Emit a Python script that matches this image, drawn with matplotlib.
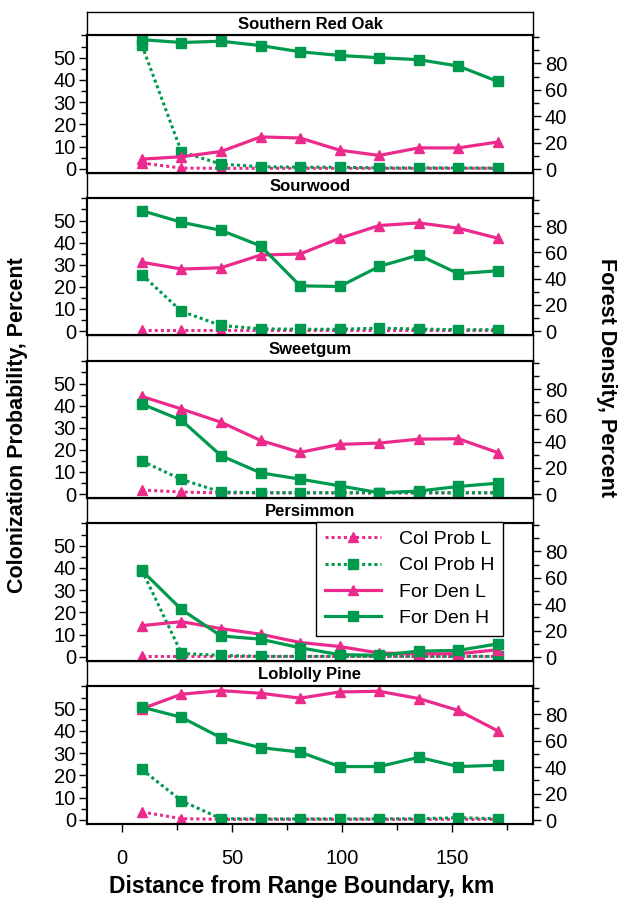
import numpy as np
import matplotlib
matplotlib.use("Agg")
import matplotlib.pyplot as plt
from matplotlib.ticker import MultipleLocator
from matplotlib.lines import Line2D

plt.rcParams['font.family'] = ['Liberation Sans', 'DejaVu Sans']

# distance from range boundary (km), bin centres
dist = [9, 27, 45, 63, 81, 99, 117, 135, 153, 171]

species = ["Southern Red Oak", "Sourwood", "Sweetgum", "Persimmon", "Loblolly Pine"]

# colonization probability (left axis, percent)
col_prob_L = [
    [2.7, 0.4, 0.3, 0.3, 0.3, 0.3, 0.3, 0.3, 0.3, 0.3],
    [0.5, 0.5, 0.5, 0.5, 0.5, 0.5, 0.5, 0.5, 0.5, 0.5],
    [1.8, 0.9, 0.5, 0.5, 0.5, 0.5, 0.5, 0.5, 0.5, 0.5],
    [0.3, 0.3, 0.3, 0.3, 0.3, 0.3, 0.3, 0.3, 0.3, 0.3],
    [3.6, 0.6, 0.3, 0.3, 0.3, 0.3, 0.3, 0.3, 0.3, 0.3],
]
col_prob_H = [
    [55.6, 7.7, 2.2, 1.0, 0.8, 0.8, 0.5, 0.5, 0.5, 0.4],
    [25.5, 8.9, 2.5, 1.0, 0.8, 0.8, 1.3, 0.9, 0.6, 0.6],
    [14.9, 6.6, 0.9, 0.6, 0.6, 0.6, 0.6, 0.6, 0.6, 0.6],
    [39.0, 1.6, 0.7, 0.3, 0.3, 0.3, 0.3, 0.3, 0.3, 0.3],
    [22.7, 8.6, 0.6, 0.5, 0.5, 0.5, 0.5, 0.6, 1.0, 0.6],
]
# forest density (right axis, percent)
for_den_L = [
    [7.5, 9.3, 13.3, 24.3, 23.5, 14.3, 10.3, 16.0, 16.0, 20.5],
    [52.5, 47.3, 48.3, 58.0, 58.8, 70.8, 80.5, 82.5, 78.5, 70.8],
    [74.5, 64.9, 54.8, 40.9, 31.8, 37.9, 38.9, 41.9, 42.2, 31.6],
    [23.8, 26.8, 21.5, 17.3, 11.0, 8.0, 3.0, 2.5, 2.5, 5.5],
    [84.3, 95.3, 98.0, 96.0, 92.3, 97.0, 97.5, 92.0, 83.0, 67.5],
]
for_den_H = [
    [98.0, 95.8, 96.8, 93.5, 88.8, 86.0, 84.3, 82.8, 78.0, 66.3],
    [91.8, 83.0, 76.8, 65.0, 34.5, 34.0, 49.3, 58.0, 43.8, 46.0],
    [68.7, 56.3, 29.3, 16.2, 11.4, 6.3, 1.0, 2.3, 5.8, 8.3],
    [65.5, 36.0, 16.0, 13.5, 7.0, 1.8, 1.3, 4.5, 5.0, 10.0],
    [85.5, 77.8, 62.3, 54.8, 51.5, 40.5, 40.5, 47.5, 40.5, 41.5],
]

PINK = "#EC2A8C"
GREEN = "#009A4E"
W, H = 621, 900

fig = plt.figure(figsize=(W / 100, H / 100), dpi=100)

# panel geometry in pixels (from top): strip top, plot top, plot bottom
rows = [(12, 35, 173), (173, 198, 335), (335, 361, 498), (498, 523, 661), (661, 686, 824)]
left_px, right_px = 87, 533

def frac(x0, y_top, x1, y_bot):
    return [x0 / W, 1 - y_bot / H, (x1 - x0) / W, (y_bot - y_top) / H]

dot_kw = dict(linestyle=(0, (1, 1)), linewidth=2.2, markersize=7)
sol_kw = dict(linestyle='-', linewidth=2.3, markersize=7)

for i, name in enumerate(species):
    s_top, p_top, p_bot = rows[i]
    # strip with species name
    sax = fig.add_axes(frac(left_px, s_top, right_px, p_top))
    sax.set_xticks([])
    sax.set_yticks([])
    for sp in sax.spines.values():
        sp.set_linewidth(1.0)
    sax.text(0.5, 0.45, name, ha='center', va='center', fontsize=12,
             fontweight='bold', transform=sax.transAxes)

    ax = fig.add_axes(frac(left_px, p_top, right_px, p_bot))
    ax2 = ax.twinx()
    ax.plot(dist, col_prob_L[i], color=PINK, marker='^', **dot_kw)
    ax.plot(dist, col_prob_H[i], color=GREEN, marker='s', **dot_kw)
    ax2.plot(dist, for_den_L[i], color=PINK, marker='^', **sol_kw)
    ax2.plot(dist, for_den_H[i], color=GREEN, marker='s', **sol_kw)

    ax.set_xlim(-16, 187)
    ax.set_ylim(-1.8, 60.2)
    ax2.set_ylim(-3, 101.5)
    ax.yaxis.set_minor_locator(MultipleLocator(5))
    ax2.yaxis.set_minor_locator(MultipleLocator(10))
    ax.set_yticks([0, 10, 20, 30, 40, 50])
    ax2.set_yticks([0, 20, 40, 60, 80])
    ax.xaxis.set_minor_locator(MultipleLocator(25))
    ax.tick_params(axis='both', which='major', labelsize=14.5, length=6, width=1.0,
                   direction='out', pad=2)
    ax.tick_params(axis='both', which='minor', length=4, width=1.0, direction='out')
    ax2.tick_params(axis='y', which='major', labelsize=14.5, length=6, width=1.0,
                    direction='out', pad=2.5)
    ax2.tick_params(axis='y', which='minor', length=4, width=1.0, direction='out')
    for a in (ax, ax2):
        for sp in a.spines.values():
            sp.set_linewidth(1.5)
    if i < len(species) - 1:
        ax.tick_params(axis='x', which='both', bottom=False, labelbottom=False)
    else:
        ax.set_xticks([0, 50, 100, 150])
        ax.tick_params(axis='x', pad=12)

    if name == "Persimmon":
        handles = [
            Line2D([], [], color=PINK, marker='^', **dot_kw),
            Line2D([], [], color=GREEN, marker='s', **dot_kw),
            Line2D([], [], color=PINK, marker='^', **sol_kw),
            Line2D([], [], color=GREEN, marker='s', **sol_kw),
        ]
        labels = ["Col Prob L", "Col Prob H", "For Den L", "For Den H"]
        leg = ax2.legend(handles, labels, loc='upper right', bbox_to_anchor=(0.933, 1.01),
                         borderaxespad=0, fontsize=14, frameon=True, fancybox=False,
                         edgecolor='black', framealpha=1, handlelength=2.9,
                         handletextpad=0.9, labelspacing=0.45, borderpad=0.45)
        leg.get_frame().set_linewidth(1.0)

fig.text(302 / W, 1 - 886 / H, "Distance from Range Boundary, km", ha='center', va='center',
         fontsize=16.5, fontweight='bold')
fig.text(18 / W, 1 - 425 / H, "Colonization Probability, Percent", ha='center', va='center',
         rotation=90, fontsize=15.5, fontweight='bold')
fig.text(606 / W, 1 - 378 / H, "Forest Density, Percent", ha='center', va='center',
         rotation=270, fontsize=15.5, fontweight='bold')

fig.savefig("out.png", dpi=100)
